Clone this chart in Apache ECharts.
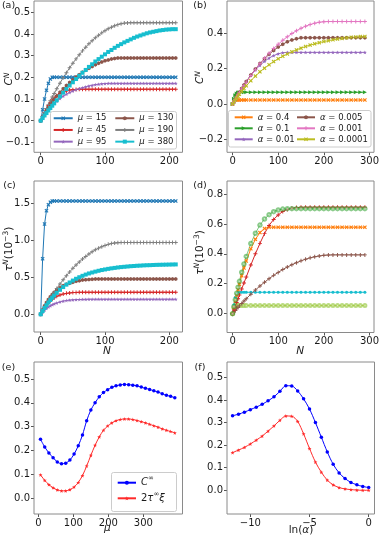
<!DOCTYPE html>
<html><head><meta charset="utf-8">
<script src="https://cdn.jsdelivr.net/npm/echarts@6/dist/echarts.min.js"></script>
<style>html,body{margin:0;padding:0;background:#fff}#c{width:382px;height:537px}</style>
</head><body><div id="c"></div>
<script>
// ---------- data ----------
const N_AC = [0,3,6,9,12,15,18,21,25,30, 35,40,45,50,55,60,65,70,75,80, 85,90,95,100,105,110,115,120,125,130, 135,140,145,150,155,160,165,170,175,180, 185,190,195,200,205,210];
const MU_NAMES = ['μ = 15','μ = 45','μ = 95','μ = 130','μ = 190','μ = 380'];
// panel (a): C^N
const A_MU15 = [0,0.05,0.1,0.14,0.172,0.192,0.2,0.2,0.2,0.2, 0.2,0.2,0.2,0.2,0.2,0.2,0.2,0.2,0.2,0.2, 0.2,0.2,0.2,0.2,0.2,0.2,0.2,0.2,0.2,0.2, 0.2,0.2,0.2,0.2,0.2,0.2,0.2,0.2,0.2,0.2, 0.2,0.2,0.2,0.2,0.2,0.2];
const A_MU45 = [0,0.02,0.038,0.055,0.07,0.083,0.095,0.105,0.115,0.125, 0.132,0.137,0.141,0.143,0.144,0.145,0.145,0.145,0.145,0.145, 0.145,0.145,0.145,0.145,0.145,0.145,0.145,0.145,0.145,0.145, 0.145,0.145,0.145,0.145,0.145,0.145,0.145,0.145,0.145,0.145, 0.145,0.145,0.145,0.145,0.145,0.145];
const A_MU95 = [0,0.013,0.026,0.038,0.05,0.06,0.07,0.079,0.09,0.102, 0.113,0.122,0.13,0.137,0.143,0.148,0.152,0.156,0.16,0.163, 0.166,0.168,0.17,0.171,0.172,0.172,0.172,0.172,0.172,0.172, 0.172,0.172,0.172,0.172,0.172,0.172,0.172,0.172,0.172,0.172, 0.172,0.172,0.172,0.172,0.172,0.172];
const A_MU130 = [0,0.016,0.032,0.047,0.061,0.074,0.087,0.099,0.114,0.131, 0.147,0.162,0.176,0.189,0.201,0.212,0.223,0.233,0.242,0.25, 0.258,0.265,0.271,0.276,0.28,0.284,0.287,0.289,0.289,0.289, 0.289,0.289,0.289,0.289,0.289,0.289,0.289,0.289,0.289,0.289, 0.289,0.289,0.289,0.289,0.289,0.289];
const A_MU190 = [0,0.019,0.038,0.056,0.074,0.092,0.109,0.125,0.147,0.173, 0.198,0.221,0.244,0.265,0.285,0.304,0.322,0.339,0.355,0.369, 0.382,0.394,0.405,0.415,0.424,0.431,0.438,0.443,0.447,0.45, 0.451,0.452,0.452,0.452,0.452,0.452,0.452,0.452,0.452,0.452, 0.452,0.452,0.452,0.452,0.452,0.452];
const A_MU380 = [0,0.012,0.024,0.035,0.047,0.058,0.069,0.08,0.094,0.112, 0.129,0.146,0.162,0.177,0.192,0.207,0.221,0.234,0.248,0.26, 0.273,0.284,0.295,0.306,0.317,0.326,0.336,0.345,0.353,0.361, 0.368,0.375,0.382,0.388,0.393,0.398,0.403,0.407,0.41,0.413, 0.416,0.418,0.42,0.421,0.422,0.422];
// panel (c): tau^N (1e-3)
const C_MU15 = [0,0.75,1.22,1.4,1.48,1.515,1.53,1.53,1.53,1.53, 1.53,1.53,1.53,1.53,1.53,1.53,1.53,1.53,1.53,1.53, 1.53,1.53,1.53,1.53,1.53,1.53,1.53,1.53,1.53,1.53, 1.53,1.53,1.53,1.53,1.53,1.53,1.53,1.53,1.53,1.53, 1.53,1.53,1.53,1.53,1.53,1.53];
const C_MU45 = [0,0.05,0.095,0.13,0.16,0.186,0.207,0.225,0.243,0.261, 0.274,0.283,0.289,0.293,0.295,0.297,0.297,0.297,0.297,0.297, 0.297,0.297,0.297,0.297,0.297,0.297,0.297,0.297,0.297,0.297, 0.297,0.297,0.297,0.297,0.297,0.297,0.297,0.297,0.297,0.297, 0.297,0.297,0.297,0.297,0.297,0.297];
const C_MU95 = [0,0.03,0.057,0.08,0.099,0.115,0.129,0.141,0.153,0.167, 0.178,0.186,0.191,0.195,0.198,0.2,0.201,0.202,0.203,0.203, 0.203,0.203,0.203,0.203,0.203,0.203,0.203,0.203,0.203,0.203, 0.203,0.203,0.203,0.203,0.203,0.203,0.203,0.203,0.203,0.203, 0.203,0.203,0.203,0.203,0.203,0.203];
const C_MU130 = [0,0.06,0.115,0.16,0.2,0.236,0.267,0.294,0.325,0.358, 0.385,0.405,0.42,0.432,0.445,0.455,0.462,0.467,0.471,0.474, 0.476,0.477,0.478,0.478,0.478,0.478,0.478,0.478,0.478,0.478, 0.478,0.478,0.478,0.478,0.478,0.478,0.478,0.478,0.478,0.478, 0.478,0.478,0.478,0.478,0.478,0.478];
const C_MU190 = [0,0.046,0.091,0.135,0.177,0.219,0.259,0.299,0.349,0.41, 0.467,0.522,0.573,0.621,0.666,0.708,0.747,0.782,0.815,0.844, 0.871,0.894,0.914,0.931,0.945,0.956,0.964,0.968,0.97,0.97, 0.97,0.97,0.97,0.97,0.97,0.97,0.97,0.97,0.97,0.97, 0.97,0.97,0.97,0.97,0.97,0.97];
const C_MU380 = [0,0.044,0.085,0.123,0.159,0.193,0.224,0.254,0.29,0.331, 0.368,0.401,0.43,0.456,0.48,0.501,0.52,0.537,0.552,0.565, 0.577,0.588,0.598,0.606,0.614,0.621,0.627,0.633,0.638,0.642, 0.646,0.65,0.653,0.656,0.658,0.661,0.663,0.664,0.666,0.668, 0.669,0.67,0.671,0.672,0.673,0.674];

const N_BD = [0,3,6,9,12,15,20,25,30,40, 50,60,70,80,90,100,110,120,130,140, 150,160,170,180,190,200,210,220,230,240, 250,260,270,280,290];
const ALPHA_NAMES = ['α = 0.4','α = 0.1','α = 0.01','α = 0.005','α = 0.001','α = 0.0001'];
// panel (b): C^N
const B_A04 = [0,0.022,0.023,0.023,0.023,0.023,0.023,0.023,0.023,0.023, 0.023,0.023,0.023,0.023,0.023,0.023,0.023,0.023,0.023,0.023, 0.023,0.023,0.023,0.023,0.023,0.023,0.023,0.023,0.023,0.023, 0.023,0.023,0.023,0.023,0.023];
const B_A01 = [0,0.03,0.05,0.06,0.065,0.067,0.067,0.067,0.067,0.067, 0.067,0.067,0.067,0.067,0.067,0.067,0.067,0.067,0.067,0.067, 0.067,0.067,0.067,0.067,0.067,0.067,0.067,0.067,0.067,0.067, 0.067,0.067,0.067,0.067,0.067];
const B_A001 = [0,0.014,0.029,0.042,0.056,0.068,0.089,0.109,0.128,0.162, 0.193,0.219,0.241,0.26,0.274,0.284,0.29,0.292,0.292,0.292, 0.292,0.292,0.292,0.292,0.292,0.292,0.292,0.292,0.292,0.292, 0.292,0.292,0.292,0.292,0.292];
const B_A0005 = [0,0.014,0.028,0.041,0.054,0.067,0.088,0.108,0.127,0.164, 0.198,0.229,0.256,0.281,0.303,0.322,0.338,0.352,0.362,0.369, 0.374,0.375,0.375,0.375,0.375,0.375,0.375,0.375,0.375,0.375, 0.375,0.375,0.375,0.375,0.375];
const B_A0001 = [0,0.013,0.026,0.039,0.052,0.064,0.085,0.104,0.124,0.161, 0.196,0.228,0.259,0.287,0.314,0.338,0.36,0.38,0.398,0.414, 0.428,0.44,0.449,0.457,0.462,0.465,0.466,0.466,0.466,0.466, 0.466,0.466,0.466,0.466,0.466];
const B_A00001 = [0,0.012,0.023,0.034,0.045,0.055,0.072,0.088,0.103,0.132, 0.158,0.182,0.203,0.222,0.24,0.256,0.27,0.283,0.295,0.306, 0.316,0.325,0.333,0.34,0.347,0.353,0.358,0.363,0.367,0.371, 0.374,0.377,0.379,0.381,0.382];
// panel (d): tau^N (1e-3)
const D_GREEN = [0,0.048,0.093,0.136,0.177,0.216,0.277,0.332,0.383,0.469, 0.538,0.592,0.633,0.662,0.682,0.693,0.699,0.702,0.702,0.702, 0.702,0.702,0.702,0.702,0.702,0.702,0.702,0.702,0.702,0.702, 0.702,0.702,0.702,0.702,0.702];
const D_RED = [0,0.025,0.05,0.075,0.1,0.125,0.165,0.205,0.245,0.325, 0.4,0.47,0.535,0.59,0.63,0.66,0.683,0.697,0.705,0.709, 0.711,0.712,0.712,0.712,0.712,0.712,0.712,0.712,0.712,0.712, 0.712,0.712,0.712,0.712,0.712];
const D_ORANGE = [0,0.043,0.084,0.123,0.16,0.196,0.253,0.305,0.352,0.434, 0.497,0.542,0.569,0.578,0.578,0.578,0.578,0.578,0.578,0.578, 0.578,0.578,0.578,0.578,0.578,0.578,0.578,0.578,0.578,0.578, 0.578,0.578,0.578,0.578,0.578];
const D_BROWN = [0,0.011,0.021,0.032,0.042,0.052,0.068,0.084,0.1,0.13, 0.158,0.185,0.21,0.234,0.256,0.276,0.295,0.312,0.327,0.341, 0.353,0.364,0.373,0.38,0.386,0.39,0.392,0.393,0.393,0.393, 0.393,0.393,0.393,0.393,0.393];
const D_CYAN = [0,0.06,0.11,0.13,0.14,0.143,0.143,0.143,0.143,0.143, 0.143,0.143,0.143,0.143,0.143,0.143,0.143,0.143,0.143,0.143, 0.143,0.143,0.143,0.143,0.143,0.143,0.143,0.143,0.143,0.143, 0.143,0.143,0.143,0.143,0.143];
const D_OLIVE = [0,0.04,0.053,0.054,0.054,0.054,0.054,0.054,0.054,0.054, 0.054,0.054,0.054,0.054,0.054,0.054,0.054,0.054,0.054,0.054, 0.054,0.054,0.054,0.054,0.054,0.054,0.054,0.054,0.054,0.054, 0.054,0.054,0.054,0.054,0.054];
// panel (e)
const MU_E = [6,18,30,42,54,66,78,90,102,114,126,138,150,162,174,186,198,210,222,234,246,258,270,282,294,306,318,330,342,354,366,378,390];
const E_CINF = [0.247,0.215,0.19,0.17,0.152,0.145,0.147,0.16,0.185,0.22,0.265,0.325,0.37,0.4,0.425,0.443,0.455,0.465,0.471,0.475,0.477,0.476,0.474,0.471,0.466,0.461,0.456,0.45,0.445,0.438,0.432,0.427,0.421];
const E_TAUXI = [0.098,0.075,0.057,0.044,0.035,0.031,0.031,0.036,0.047,0.066,0.095,0.135,0.18,0.222,0.257,0.285,0.303,0.316,0.325,0.33,0.332,0.332,0.33,0.326,0.321,0.316,0.31,0.304,0.298,0.291,0.285,0.28,0.274];
// panel (f)
const LN_ALPHA = [-11.5,-11,-10.5,-10,-9.5,-9,-8.5,-8,-7.5,-7,-6.5,-6,-5.5,-5,-4.5,-4,-3.5,-3,-2.5,-2,-1.5,-1,-0.5,0];
const F_CINF = [0.33,0.337,0.346,0.357,0.368,0.381,0.396,0.414,0.438,0.463,0.462,0.44,0.405,0.36,0.3,0.235,0.17,0.115,0.077,0.052,0.035,0.024,0.017,0.012];
const F_TAUXI = [0.167,0.178,0.19,0.205,0.222,0.24,0.262,0.285,0.31,0.329,0.328,0.305,0.25,0.185,0.125,0.08,0.045,0.024,0.012,0.006,0.003,0.001,0,0];
// tick values
const AC_XTICKS = [0,100,200];
const BD_XTICKS = [0,100,200,300];
const E_XTICKS = [0,100,200,300];
const F_XTICKS = [-10,-5,0];
const A_YTICKS = [-0.1,0,0.1,0.2,0.3,0.4,0.5];
const B_YTICKS = [-0.2,0,0.2,0.4];
const C_YTICKS = [0,0.5,1,1.5];
const D_YTICKS = [0,0.2,0.4,0.6,0.8];
const EF_YTICKS = [0,0.1,0.2,0.3,0.4,0.5];

// ---------- styling ----------
const FONT = 'DejaVu Sans';
const TXT = '#1a1a1a';
const SYM = {
  cross: 'path://M2,0L5,3L8,0L10,2L7,5L10,8L8,10L5,7L2,10L0,8L3,5L0,2Z',
  plus: 'path://M3.8,0H6.2V3.8H10V6.2H6.2V10H3.8V6.2H0V3.8H3.8Z',
  star: 'path://M5,0L6.2,3.4L10,3.6L7,6L8.1,9.6L5,7.5L1.9,9.6L3,6L0,3.6L3.8,3.4Z',
  hex: 'path://M5,0L9.33,2.5L9.33,7.5L5,10L0.67,7.5L0.67,2.5Z',
  tri: 'path://M0,0L10,5L0,10Z'
};
const C10 = {blue:'#1f77b4',orange:'#ff7f0e',green:'#2ca02c',red:'#d62728',purple:'#9467bd',brown:'#8c564b',pink:'#e377c2',gray:'#7f7f7f',olive:'#bcbd22',cyan:'#17becf'};

function fmt(dec){ return v => (v < 0 ? '\u2212' : '') + Math.abs(v).toFixed(dec); }
function axis(g, min, max, ticks, dec){
  return {type:'value', gridIndex:g, min:min, max:max,
    axisLine:{show:false, onZero:false}, splitLine:{show:false},
    axisTick:{show:true, length:3, customValues:ticks, lineStyle:{color:'#555', width:1}},
    axisLabel:{show:true, customValues:ticks, formatter:fmt(dec), fontSize:10, fontFamily:FONT, color:TXT, margin:4}};
}
function line(name, gi, xs, ys, color, symbol, extra){
  return Object.assign({type:'line', name:name, xAxisIndex:gi, yAxisIndex:gi,
    data: xs.map((x,i)=>[x, ys[i]]), symbol:symbol, symbolSize:4, symbolKeepAspect:true, showSymbol:true,
    lineStyle:{color:color, width:1}, itemStyle:{color:color}, silent:true, animation:false,
    emphasis:{disabled:true}}, extra||{});
}

const GRID_BOXES = [
  {left:34, top:1, width:148.5, height:151.3},
  {left:227, top:1, width:147, height:151.3},
  {left:34, top:181, width:148.5, height:151},
  {left:227, top:181, width:147, height:151.5},
  {left:34, top:362, width:148.5, height:152},
  {left:227, top:362, width:147.5, height:152}
];
const grids = GRID_BOXES.map(g => Object.assign({show:false}, g));

const xAxes = [
  axis(0, -10.4, 220.5, AC_XTICKS, 0),
  axis(1, -12.2, 302.8, BD_XTICKS, 0),
  axis(2, -10.4, 220.5, AC_XTICKS, 0),
  axis(3, -12.2, 302.8, BD_XTICKS, 0),
  axis(4, -12.6, 412, E_XTICKS, 0),
  axis(5, -11.97, 0.49, F_XTICKS, 0)
];
const yAxes = [
  axis(0, -0.146, 0.552, A_YTICKS, 1),
  axis(1, -0.272, 0.582, B_YTICKS, 1),
  axis(2, -0.239, 1.801, C_YTICKS, 1),
  axis(3, -0.126, 0.887, D_YTICKS, 1),
  axis(4, -0.066, 0.571, EF_YTICKS, 1),
  axis(5, -0.105, 0.568, EF_YTICKS, 1)
];

const aData = [A_MU15, A_MU45, A_MU95, A_MU130, A_MU190, A_MU380];
const cData = [C_MU15, C_MU45, C_MU95, C_MU130, C_MU190, C_MU380];
const muColors = [C10.blue, C10.red, C10.purple, C10.brown, C10.gray, C10.cyan];
const muSyms = [SYM.cross, SYM.plus, SYM.star, SYM.hex, SYM.plus, 'rect'];
const bData = [B_A04, B_A01, B_A001, B_A0005, B_A0001, B_A00001];
const aColors = [C10.orange, C10.green, C10.purple, C10.brown, C10.pink, C10.olive];
const aSyms = [SYM.cross, SYM.tri, SYM.star, SYM.hex, SYM.plus, SYM.cross];

const series = [];
MU_NAMES.forEach((n,i)=>series.push(line(n, 0, N_AC, aData[i], muColors[i], muSyms[i])));
ALPHA_NAMES.forEach((n,i)=>series.push(line(n, 1, N_BD, bData[i], aColors[i], aSyms[i])));
MU_NAMES.forEach((n,i)=>series.push(line(n, 2, N_AC, cData[i], muColors[i], muSyms[i])));
series.push(line('d1', 3, N_BD, D_OLIVE, C10.olive, 'emptyCircle', {symbolSize:3, itemStyle:{color:'#9ccc4a', opacity:0.7}}));
series.push(line('d2', 3, N_BD, D_CYAN, C10.cyan, 'circle', {symbolSize:3}));
series.push(line('d3', 3, N_BD, D_BROWN, C10.brown, SYM.plus));
series.push(line('d4', 3, N_BD, D_ORANGE, C10.orange, SYM.cross));
series.push(line('d5', 3, N_BD, D_RED, C10.red, SYM.plus));
series.push(line('d6', 3, N_BD, D_GREEN, C10.green, 'emptyCircle', {symbolSize:3.5, itemStyle:{color:C10.green, opacity:0.55}, lineStyle:{color:C10.green,width:1,opacity:0.6}}));
series.push(line('C∞', 4, MU_E, E_CINF, '#0000ff', 'circle', {smooth:0.3, symbolSize:3.5}));
series.push(line('2τ∞ξ', 4, MU_E, E_TAUXI, '#ff2a2a', SYM.star, {smooth:0.3}));
series.push(line('fC', 5, LN_ALPHA, F_CINF, '#0000ff', 'circle', {smooth:0.3, symbolSize:3.5}));
series.push(line('fT', 5, LN_ALPHA, F_TAUXI, '#ff2a2a', SYM.star, {smooth:0.3}));

const legRich = {g:{fontFamily:FONT, fontStyle:'italic', fontSize:8.5}};
function legFmt(name){ return name.replace(/^(μ|α)/, '{g|$1}'); }
function leg(names, left, top, lh, iw){
  return {data:names, left:left, top:top, orient:'vertical', itemGap:0, itemWidth:iw, itemHeight:5,
    padding:0, selectedMode:false, formatter:legFmt,
    textStyle:{fontFamily:FONT, fontSize:8.5, color:TXT, lineHeight:lh, rich:legRich}};
}
const eRich = {
  c:{fontFamily:FONT, fontStyle:'italic', fontSize:10, lineHeight:15.6},
  g:{fontFamily:FONT, fontStyle:'italic', fontSize:10, lineHeight:15.6},
  s:{fontFamily:FONT, fontSize:7, lineHeight:12, verticalAlign:'top'}
};
const legends = [
  leg(MU_NAMES.slice(0,3), 52.7, 112.4, 11.7, 19),
  leg(MU_NAMES.slice(3), 114.3, 112.4, 11.7, 19),
  leg(ALPHA_NAMES.slice(0,3), 233.7, 111.8, 11, 18),
  leg(ALPHA_NAMES.slice(3), 296, 111.8, 11, 18),
  {data:['C∞','2τ∞ξ'], left:116.7, top:474.9, orient:'vertical', itemGap:0, itemWidth:18.3, itemHeight:5,
    padding:0, selectedMode:false,
    formatter: n => n === 'C∞' ? '{c|C}{s|∞}' : '2{g|τ}{s|∞}{g|ξ}',
    textStyle:{fontFamily:FONT, fontSize:10, color:TXT, lineHeight:15.6, rich:eRich}}
];

const labRich = {
  g:{fontFamily:FONT, fontStyle:'italic', fontSize:10.5, lineHeight:14},
  s:{fontFamily:FONT, fontStyle:'italic', fontSize:7.5, lineHeight:10, verticalAlign:'top'},
  u:{fontFamily:FONT, fontSize:7.5, lineHeight:10, verticalAlign:'top'},
  n:{fontFamily:FONT, fontSize:10.5, lineHeight:14}
};
function txt(x, y, text, opts){
  const o = opts || {};
  return {type:'text', x:x, y:y, rotation:o.rot||0, z:10,
    style:{text:text, rich:labRich, fill:TXT, fontFamily:FONT, fontSize:o.size||10.5, fontStyle:o.italic?'italic':'normal',
      align:'center', verticalAlign:'middle', textAlign:'center', textVerticalAlign:'middle'}};
}
function box(x, y, w, h){
  return {type:'rect', z:3, shape:{x:x, y:y, width:w, height:h, r:2},
    style:{fill:'rgba(255,255,255,0.8)', stroke:'#cccccc', lineWidth:1}};
}
function frame(g){
  return {type:'rect', z:6, silent:true, shape:{x:g.left, y:g.top, width:g.width, height:g.height},
    style:{fill:'none', stroke:'#8a8a8a', lineWidth:1}};
}
const graphics = GRID_BOXES.map(frame).concat([
  box(50.5, 111.5, 126, 37.5),
  box(228.5, 110.5, 142.5, 36.5),
  box(111.5, 472.5, 65, 39),
  txt(8.5, 6, '(a)', {size:9.5}), txt(200, 6, '(b)', {size:9.5}),
  txt(9.5, 186, '(c)', {size:9.5}), txt(200, 186, '(d)', {size:9.5}),
  txt(8.5, 367.5, '(e)', {size:9.5}), txt(200, 367.5, '(f)', {size:9.5}),
  txt(9.7, 79, '{g|C}{s|N}', {rot:Math.PI/2}),
  txt(200.7, 77.5, '{g|C}{s|N}', {rot:Math.PI/2}),
  txt(9, 249, '{g|τ}{s|N}{n|(10}{u|−3}{n|)}', {rot:Math.PI/2}),
  txt(200, 252.5, '{g|τ}{s|N}{n|(10}{u|−3}{n|)}', {rot:Math.PI/2}),
  txt(107, 351.7, '{g|N}'), txt(300.3, 351.7, '{g|N}'),
  txt(107.3, 528.3, '{g|μ}'), txt(301, 530.7, '{n|ln(}{g|α}{n|)}')
]);

const chart = echarts.init(document.getElementById('c'), null, {renderer:'canvas'});
chart.setOption({
  animation:false,
  textStyle:{fontFamily:FONT},
  grid:grids, xAxis:xAxes, yAxis:yAxes, series:series, legend:legends,
  graphic:{elements:graphics}
});
</script></body></html>
